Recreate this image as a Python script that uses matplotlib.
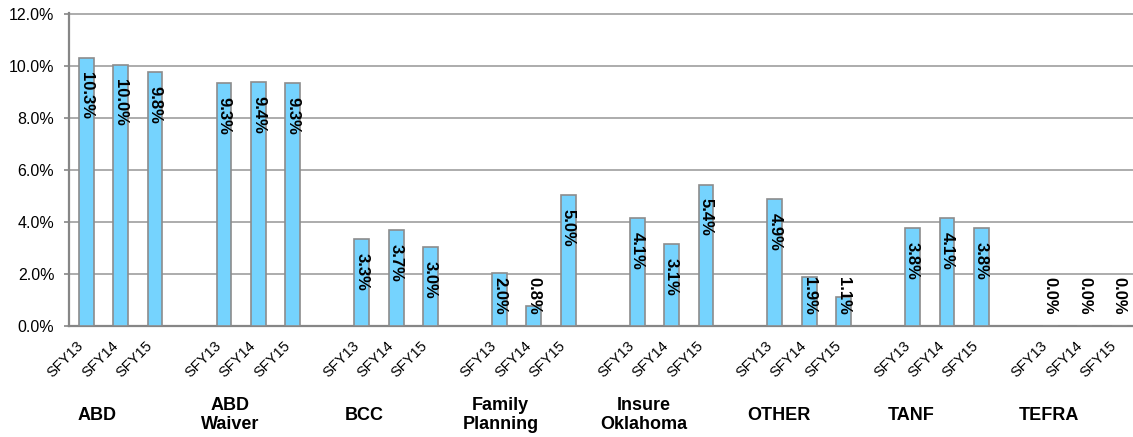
import matplotlib
matplotlib.use("Agg")
import matplotlib.pyplot as plt
import matplotlib.transforms as mtransforms
import numpy as np

plt.rcParams["font.family"] = ["Liberation Sans", "DejaVu Sans"]

programs = ["ABD", "ABD\nWaiver", "BCC", "Family\nPlanning", "Insure\nOklahoma", "OTHER", "TANF", "TEFRA"]
years = ["SFY13", "SFY14", "SFY15"]
sfy13 = [10.31, 9.33, 3.33, 2.03, 4.14, 4.88, 3.76, 0.0]
sfy14 = [10.03, 9.40, 3.69, 0.77, 3.14, 1.88, 4.14, 0.0]
sfy15 = [9.78, 9.33, 3.04, 5.04, 5.44, 1.12, 3.76, 0.0]

fig = plt.figure(figsize=(11.33, 4.37), dpi=100)
ax = fig.add_axes([69 / 1133, 1 - 326 / 437, 1 - 69 / 1133, (326 - 13) / 437])

# three bars per program, then an empty slot
series = [sfy13, sfy14, sfy15]
pos, vals, ticklabels = [], [], []
for g in range(len(programs)):
    for j, s in enumerate(series):
        pos.append(4 * g + j)
        vals.append(s[g])
        ticklabels.append(years[j])

ax.bar(pos, vals, width=0.43, color="#75D3FE", edgecolor="#8C8C8C", linewidth=1.2, zorder=3)

ax.set_xlim(-0.5, 30.4)
ax.set_ylim(0, 12.04)
ax.set_yticks(np.arange(0, 13, 2))
ax.yaxis.set_major_formatter(lambda v, p: f"{v:.1f}%")
ax.grid(axis="y", color="#A6A6A6", lw=1.3)
ax.set_axisbelow(True)
ax.set_xticks(pos)
ax.set_xticklabels(ticklabels, rotation=45, ha="right", fontsize=10.5)
ax.tick_params(axis="x", length=0, pad=9)
ax.tick_params(axis="y", length=3.6, width=1.2, color="#868686", pad=7, labelsize=11.5)
for side in ["top", "right"]:
    ax.spines[side].set_visible(False)
for side in ["left", "bottom"]:
    ax.spines[side].set_color("#868686")
    ax.spines[side].set_linewidth(1.6)

labels = []
for x, v in zip(pos, vals):
    t = ax.annotate(f"{v:.1f}%", (x, v), xytext=(0, -10), textcoords="offset points",
                    rotation=-90, ha="center", va="top", fontsize=12, fontweight="bold", zorder=4)
    labels.append(t)

# short bars: push the label up so it stays above the axis
fig.canvas.draw()
floor = ax.transData.transform((0, 0))[1] + 11
for t in labels:
    bb = t.get_window_extent()
    if bb.y0 < floor:
        t.xyann = (0, t.xyann[1] + (floor - bb.y0) * 72 / fig.dpi)

# program names sit roughly under the first bar of each group
name_x = [0.3, 4.18, 8.07, 12.04, 16.19, 20.13, 23.96, 27.97]
trans = mtransforms.blended_transform_factory(ax.transData, fig.transFigure)
for x, name in zip(name_x, programs):
    ax.text(x, 1 - 415 / 437, name, transform=trans, ha="center", va="center",
            fontsize=13, fontweight="bold", linespacing=1.1)

fig.savefig("out.png", dpi=100)
